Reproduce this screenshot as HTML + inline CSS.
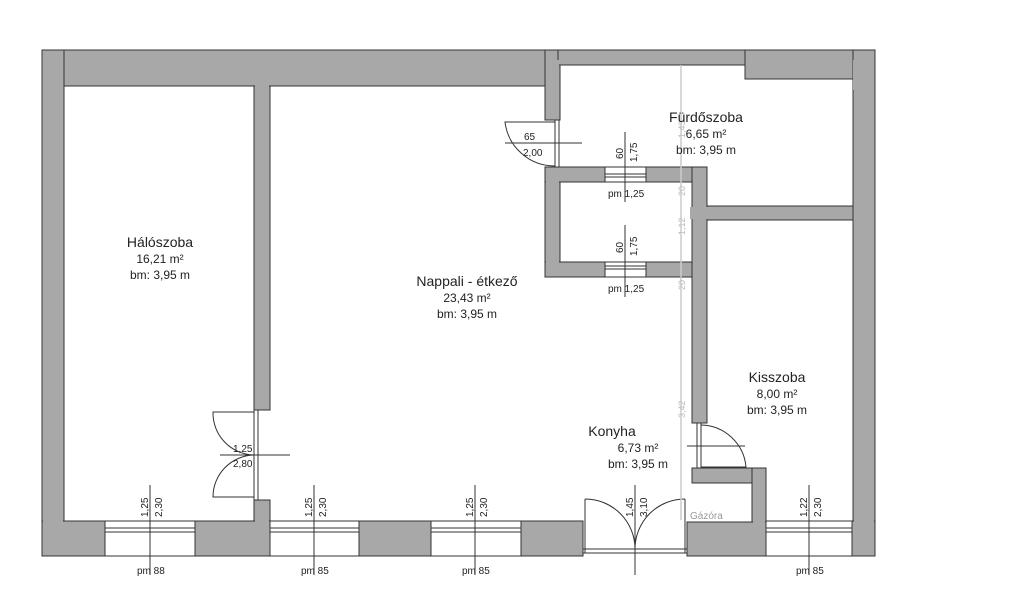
<!DOCTYPE html>
<html><head><meta charset="utf-8"><style>
html,body{margin:0;padding:0;background:#fff}
svg{display:block}
text{font-family:"Liberation Sans",sans-serif;fill:#222}
</style></head><body>
<svg width="1024" height="589" viewBox="0 0 1024 589" xmlns="http://www.w3.org/2000/svg">
<g fill="#a8a8a8" stroke="#333" stroke-width="1">
<!-- outer top left -->
<rect x="42" y="50" width="516" height="36"/>
<rect x="42" y="50" width="22" height="506"/>
<!-- partition hálo/nappali -->
<rect x="254" y="86" width="16" height="324"/>
<rect x="254" y="500" width="16" height="21"/>
<!-- right of nappali top -->
<rect x="545" y="50" width="15" height="70"/>
<!-- fürdő top -->
<rect x="558" y="50" width="187" height="15"/>
<rect x="745" y="50" width="130" height="29"/>
<rect x="853" y="50" width="22" height="506"/>
<!-- small room -->
<rect x="545" y="167" width="15" height="108"/>
<rect x="545" y="167" width="60" height="15"/>
<rect x="646" y="167" width="61" height="15"/>
<rect x="545" y="262" width="60" height="15"/>
<rect x="646" y="262" width="61" height="15"/>
<rect x="692" y="167" width="15" height="256"/>
<rect x="707" y="206" width="146" height="14"/>
<!-- kisszoba lower -->
<rect x="692" y="468" width="74" height="15"/>
<rect x="752" y="468" width="14" height="54"/>
<rect x="687" y="522" width="79" height="34"/>
<!-- bottom -->
<rect x="42" y="521" width="63" height="35"/>
<rect x="195" y="521" width="75" height="35"/>
<rect x="359" y="521" width="72" height="35"/>
<rect x="521" y="521" width="62" height="35"/>
<rect x="852" y="521" width="23" height="35"/>
</g>
<g fill="#a8a8a8">
<rect x="43" y="51" width="20" height="40"/>
<rect x="255" y="80" width="14" height="10"/>
<rect x="546" y="60" width="13" height="30"/>
<rect x="546" y="168" width="13" height="20"/>
<rect x="546" y="258" width="13" height="18"/>
<rect x="693" y="168" width="13" height="20"/>
<rect x="690" y="207" width="20" height="12"/>
<rect x="853" y="60" width="21" height="30"/>
<rect x="855" y="207" width="19" height="12"/>
<rect x="753" y="469" width="12" height="60"/>
<rect x="43" y="515" width="20" height="40"/>
<rect x="255" y="515" width="14" height="12"/>
<rect x="854" y="515" width="20" height="40"/>
</g>
<!-- windows -->
<g stroke="#333" stroke-width="1" fill="#fff">
<line x1="105" y1="521" x2="195" y2="521"/><line x1="105" y1="556" x2="195" y2="556"/>
<rect x="105" y="528" width="90" height="4"/>
<line x1="270" y1="521" x2="359" y2="521"/><line x1="270" y1="556" x2="359" y2="556"/>
<rect x="270" y="528" width="89" height="4"/>
<line x1="431" y1="521" x2="521" y2="521"/><line x1="431" y1="556" x2="521" y2="556"/>
<rect x="431" y="528" width="90" height="4"/>
<line x1="766" y1="521" x2="852" y2="521"/><line x1="766" y1="556" x2="852" y2="556"/>
<rect x="766" y="528" width="86" height="4"/>
<line x1="605" y1="167" x2="646" y2="167"/><line x1="605" y1="182" x2="646" y2="182"/>
<rect x="605" y="174" width="41" height="3"/>
<line x1="605" y1="262" x2="646" y2="262"/><line x1="605" y1="277" x2="646" y2="277"/>
<rect x="605" y="266" width="41" height="3"/>
</g>
<!-- doors -->
<g stroke="#333" stroke-width="1" fill="none">
<rect x="254" y="410" width="4" height="90"/>
<path d="M254,412 L213,412 A42,42 0 0 0 254,455"/>
<path d="M254,497 L213,497 A42,42 0 0 1 254,455"/>
<line x1="220" y1="455" x2="290" y2="455"/>
<rect x="555" y="120" width="4" height="47"/>
<path d="M555,122 L505,122 A50,50 0 0 0 555,166"/>
<line x1="505" y1="143" x2="582" y2="143"/>
<rect x="697" y="423" width="4" height="45"/>
<path d="M701,425 L701,425 A46,46 0 0 1 746,467 L701,467"/>
<line x1="687" y1="446" x2="745" y2="446"/>
<line x1="583" y1="549" x2="687" y2="549"/><line x1="583" y1="553" x2="687" y2="553"/>
<path d="M585,499 A50,50 0 0 1 635,549"/>
<path d="M685,499 A50,50 0 0 0 635,549"/>
<line x1="585" y1="499" x2="585" y2="553"/><line x1="685" y1="499" x2="685" y2="553"/>
</g>
<!-- dimension lines -->
<g stroke="#333" stroke-width="1">
<line x1="150" y1="485" x2="150" y2="575"/>
<line x1="314" y1="485" x2="314" y2="575"/>
<line x1="475" y1="485" x2="475" y2="575"/>
<line x1="635" y1="485" x2="635" y2="575"/>
<line x1="809" y1="485" x2="809" y2="575"/>
<line x1="625" y1="132" x2="625" y2="202"/>
<line x1="625" y1="225" x2="625" y2="297"/>
</g>
<line x1="681" y1="65" x2="681" y2="520" stroke="#ccc" stroke-width="1.5"/>
<g font-size="9" fill="#bbb">
<text transform="translate(685,138) rotate(-90)" style="fill:#bbb">1,43</text>
<text transform="translate(685,196) rotate(-90)" style="fill:#bbb">20</text>
<text transform="translate(685,235) rotate(-90)" style="fill:#bbb">1,12</text>
<text transform="translate(685,290) rotate(-90)" style="fill:#bbb">20</text>
<text transform="translate(685,418) rotate(-90)" style="fill:#bbb">3,42</text>
</g>
<g font-size="10">
<text transform="translate(148,517) rotate(-90)">1,25</text>
<text transform="translate(162,517) rotate(-90)">2,30</text>
<text transform="translate(312,517) rotate(-90)">1,25</text>
<text transform="translate(326,517) rotate(-90)">2,30</text>
<text transform="translate(473,517) rotate(-90)">1,25</text>
<text transform="translate(487,517) rotate(-90)">2,30</text>
<text transform="translate(633,517) rotate(-90)">1,45</text>
<text transform="translate(647,517) rotate(-90)">3,10</text>
<text transform="translate(807,517) rotate(-90)">1,22</text>
<text transform="translate(821,517) rotate(-90)">2,30</text>
<text transform="translate(623,159) rotate(-90)">60</text>
<text transform="translate(637,162) rotate(-90)">1,75</text>
<text transform="translate(623,253) rotate(-90)">60</text>
<text transform="translate(637,256) rotate(-90)">1,75</text>
<text x="137" y="574">pm 88</text>
<text x="301" y="574">pm 85</text>
<text x="462" y="574">pm 85</text>
<text x="796" y="574">pm 85</text>
<text x="608" y="197">pm 1,25</text>
<text x="608" y="292">pm 1,25</text>
<text x="524" y="140">65</text>
<text x="523" y="156">2,00</text>
<text x="233" y="452">1,25</text>
<text x="233" y="467">2,80</text>
<text x="690" y="519" style="fill:#999">Gázóra</text>
</g>
<g font-size="14" text-anchor="middle">
<text x="160" y="247">Hálószoba</text>
<text x="160" y="263" font-size="12">16,21 m²</text>
<text x="160" y="279" font-size="12">bm: 3,95 m</text>
<text x="467" y="286">Nappali - étkező</text>
<text x="467" y="302" font-size="12">23,43 m²</text>
<text x="467" y="318" font-size="12">bm: 3,95 m</text>
<text x="706" y="122">Fürdőszoba</text>
<text x="706" y="138" font-size="12">6,65 m²</text>
<text x="706" y="154" font-size="12">bm: 3,95 m</text>
<text x="777" y="382">Kisszoba</text>
<text x="777" y="398" font-size="12">8,00 m²</text>
<text x="777" y="414" font-size="12">bm: 3,95 m</text>
<text x="612" y="436">Konyha</text>
<text x="638" y="452" font-size="12">6,73 m²</text>
<text x="638" y="468" font-size="12">bm: 3,95 m</text>
</g>
</svg>
</body></html>
